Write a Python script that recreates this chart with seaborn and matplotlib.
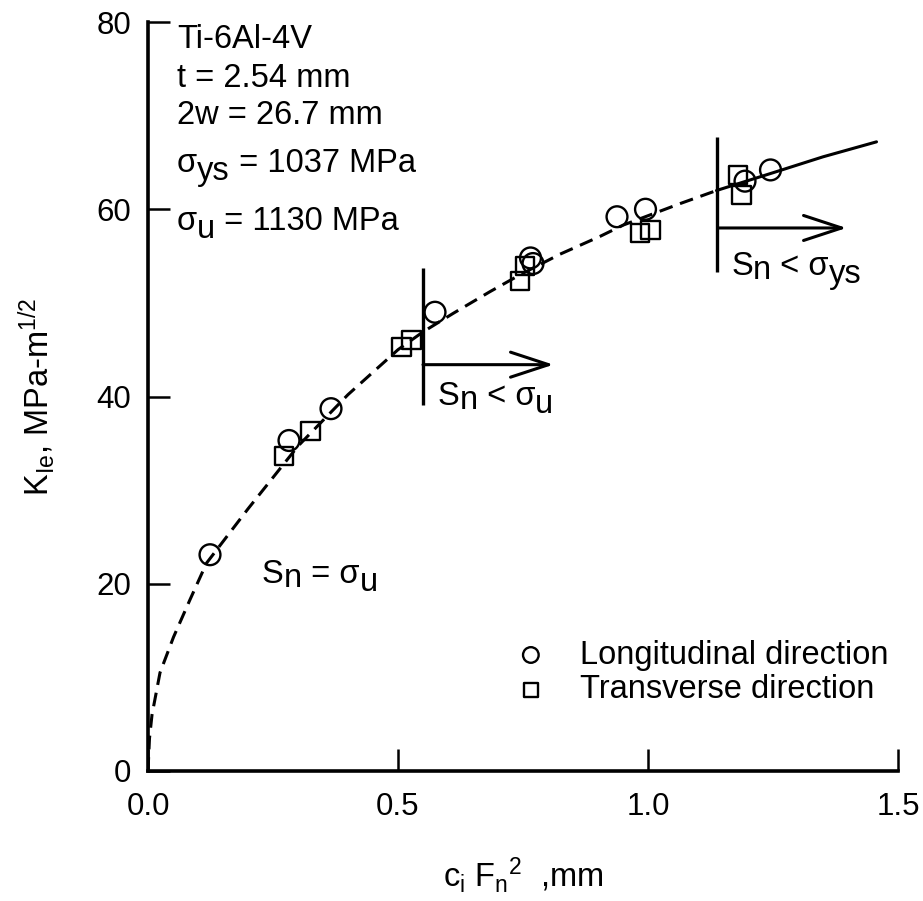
import matplotlib
matplotlib.use('Agg')
import matplotlib.pyplot as plt
import seaborn as sns
import pandas as pd

# values
long_x = [0.124, 0.282, 0.366, 0.574, 0.765, 0.770, 0.938, 0.995, 1.194, 1.245]
long_y = [23.1, 35.3, 38.7, 49.0, 54.8, 54.2, 59.2, 60.0, 63.0, 64.2]
trans_x = [0.272, 0.325, 0.507, 0.527, 0.744, 0.754, 0.984, 1.005, 1.180, 1.187]
trans_y = [33.6, 36.3, 45.3, 46.0, 52.3, 53.9, 57.5, 57.8, 63.7, 61.5]

fit_dash_x = [0.0, 0.003, 0.008, 0.024, 0.051, 0.084, 0.117, 0.2, 0.3, 0.4, 0.5,
              0.55, 0.611, 0.684, 0.744, 0.824, 0.904, 0.95, 1.064, 1.137]
fit_dash_y = [0.0, 3.5, 6.0, 10.5, 14.3, 18.3, 22.2, 28.0, 34.7, 40.2, 45.0,
              46.9, 48.9, 51.2, 53.0, 55.2, 57.1, 58.3, 60.6, 62.0]
fit_solid_x = [1.137, 1.25, 1.35, 1.457]
fit_solid_y = [62.0, 63.9, 65.6, 67.2]

bound_x = [0.55, 1.139]
bound_lo = [39.1, 53.3]
bound_hi = [53.7, 67.7]
arrow_y = [43.4, 58.0]
arrow_end = [0.811, 1.397]

sns.set_style('ticks')
plt.rcParams['font.family'] = ['Liberation Sans', 'DejaVu Sans']
plt.rcParams['mathtext.fontset'] = 'custom'
plt.rcParams['mathtext.rm'] = 'Liberation Sans'
plt.rcParams['mathtext.it'] = 'Liberation Sans'
plt.rcParams['mathtext.bf'] = 'Liberation Sans:bold'
plt.rcParams['text.color'] = 'black'
plt.rcParams['axes.labelcolor'] = 'black'

fig = plt.figure(figsize=(9.23, 9.01), dpi=100)
ax = fig.add_axes([148/923, 130/901, 750/923, 749/901])

df_long = pd.DataFrame({'x': long_x, 'y': long_y})
df_trans = pd.DataFrame({'x': trans_x, 'y': trans_y})

sns.scatterplot(data=df_long, x='x', y='y', marker='o', s=225, facecolor='none',
                edgecolor='black', linewidth=1.7, label='Longitudinal direction', ax=ax, zorder=3)
sns.scatterplot(data=df_trans, x='x', y='y', marker='s', s=169, facecolor='none',
                edgecolor='black', linewidth=1.7, label='Transverse direction', ax=ax, zorder=3)

ax.plot(fit_dash_x, fit_dash_y, color='black', lw=2.2, dashes=(4.5, 2.6))
ax.plot(fit_solid_x, fit_solid_y, color='black', lw=2.2)

ax.vlines(bound_x, bound_lo, bound_hi, color='black', lw=2.4)
for x0, x1, yy in zip(bound_x, arrow_end, arrow_y):
    ax.annotate('', xy=(x1, yy), xytext=(x0, yy),
                arrowprops=dict(arrowstyle='->, head_length=1.37, head_width=0.45',
                                lw=2.2, color='black', shrinkA=0, shrinkB=0,
                                mutation_scale=20))

fs = 23.5


def chain_text(x, y, parts):
    # parts: (text, shift of baseline in points); subscripts are full size, just lowered
    s, sh = parts[0]
    prev = ax.text(x, y, s, fontsize=fs, va='baseline', ha='left')
    last = sh
    for s, sh in parts[1:]:
        prev = ax.annotate(s, xy=(1, 0), xycoords=prev, xytext=(0, sh - last),
                           textcoords='offset points', fontsize=fs, va='bottom', ha='left')
        last = sh


ax.text(0.058, 77.2, 'Ti-6Al-4V', fontsize=fs)
ax.text(0.058, 73.1, 't = 2.54 mm', fontsize=fs)
ax.text(0.058, 69.1, '2w = 26.7 mm', fontsize=fs)
chain_text(0.058, 64.0, [('\u03c3', 0), ('ys', -6), (' = 1037 MPa', 0)])
chain_text(0.058, 57.8, [('\u03c3', 0), ('u', -6), (' = 1130 MPa', 0)])
chain_text(0.228, 20.1, [('S', 0), ('n', -3), (' = \u03c3', 0), ('u', -6)])
chain_text(0.58, 39.1, [('S', 0), ('n', -3), (' < \u03c3', 0), ('u', -6)])
chain_text(1.167, 53.0, [('S', 0), ('n', -3), (' < \u03c3', 0), ('ys', -6)])

ax.set_xlim(0, 1.5)
ax.set_ylim(0, 80)
ax.set_xticks([0.0, 0.5, 1.0, 1.5])
ax.set_xticklabels(['0.0', '0.5', '1.0', '1.5'])
ax.set_yticks([0, 20, 40, 60, 80])
ax.tick_params(direction='in', length=16, width=1.8, labelsize=22.5, pad=12, colors='black')
ax.tick_params(axis='x', pad=15)
ax.set_xlabel(r'c$_{i}$ F$_{n}{}^{2}$  ,mm', fontsize=fs, labelpad=24)
ax.set_ylabel(r'K$_{Ie}$, MPa-m$^{1/2}$', fontsize=fs, labelpad=28)

sns.despine(ax=ax)
for side in ['left', 'bottom']:
    ax.spines[side].set_linewidth(2.6)
    ax.spines[side].set_color('black')

leg = ax.legend(loc='center left', bbox_to_anchor=(0.72, 10.52), bbox_transform=ax.transData,
                frameon=False, fontsize=fs, markerscale=0.75, handlelength=1.4,
                handletextpad=0.8, labelspacing=0.12, borderpad=0, borderaxespad=0)

fig.savefig('out.png', dpi=100)
